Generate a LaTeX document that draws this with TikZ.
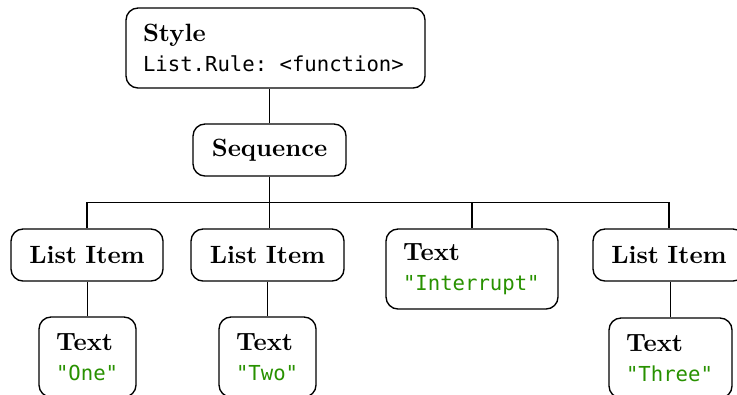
\documentclass[tikz,border=0pt]{standalone}
\usepackage{fontspec}
\newfontfamily\codefont{DejaVu Sans Mono}
\definecolor{strgreen}{RGB}{40,145,0}
\tikzset{
  card/.style={draw, line width=0.55pt, rounded corners=4.8pt,
    inner xsep=6.8pt, inner ysep=0pt, text width=#1,
    font=\fontsize{10}{12}\selectfont},
  twoline/.style={card=#1, align=left, minimum height=32pt},
  oneline/.style={card=#1, align=center, minimum height=20.8pt},
  edge/.style={line width=0.55pt},
}
\newcommand{\code}[1]{{\codefont\fontsize{8.25}{12}\selectfont #1}}
\newcommand{\str}[1]{\textcolor{strgreen}{\code{#1}}}
\begin{document}
\begin{tikzpicture}[x=0.4pt, y=-0.4pt]
  \useasboundingbox (0,0) rectangle (737,394);

  % tree of nodes
  \node[twoline=106pt] (style) at (275.5,48)
    {\textbf{Style}\\\code{List.Rule: <function>}};
  \node[oneline=47.6pt] (seq) at (269.5,150) {\textbf{Sequence}};

  \node[oneline=47.2pt] (li1) at (87,255) {\textbf{List Item}};
  \node[oneline=47.6pt] (li2) at (267.5,255) {\textbf{List Item}};
  \node[twoline=55.2pt] (intr) at (472,269)
    {\textbf{Text}\\\str{"Interrupt"}};
  \node[oneline=47.2pt] (li3) at (669,255) {\textbf{List Item}};

  \node[twoline=25.2pt] (one) at (87.5,357) {\textbf{Text}\\\str{"One"}};
  \node[twoline=25.2pt] (two) at (267.5,357) {\textbf{Text}\\\str{"Two"}};
  \node[twoline=35.6pt] (three) at (670.5,358) {\textbf{Text}\\\str{"Three"}};

  % connectors
  \coordinate (fork) at (269.5,202.5);
  \draw[edge] (seq.north) -- (seq.north |- style.south);
  \draw[edge] (seq.south) -- (fork);
  \draw[edge] (li1.north) -- (li1.north |- fork) -- (li3.north |- fork) -- (li3.north);
  \draw[edge] (fork) -- (fork |- li2.north);
  \draw[edge] (intr.north) -- (intr.north |- fork);
  \draw[edge] (one.north) -- (one.north |- li1.south);
  \draw[edge] (li2.south) -- (two.north);
  \draw[edge] (three.north) -- (three.north |- li3.south);
\end{tikzpicture}
\end{document}
